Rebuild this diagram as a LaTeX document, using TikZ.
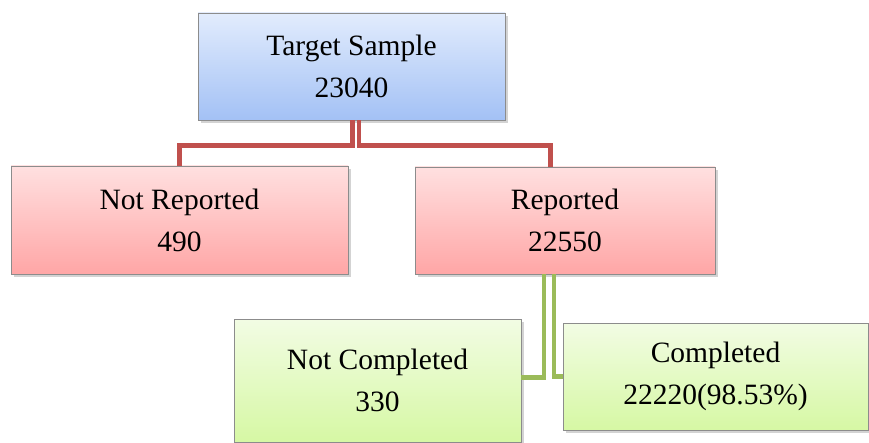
\documentclass[tikz,border=0pt]{standalone}
\usepackage{fontspec}
\setmainfont{Liberation Serif}
\usetikzlibrary{shadows}
\definecolor{boxline}{HTML}{8C8C8C}
\definecolor{redline}{HTML}{C0504D}
\definecolor{greenline}{HTML}{9BBB59}
\definecolor{bluetop}{HTML}{E2ECFD}
\definecolor{bluebot}{HTML}{A3C1F5}
\definecolor{pinktop}{HTML}{FFE0E0}
\definecolor{pinkbot}{HTML}{FFA6A6}
\definecolor{greentop}{HTML}{F2FCE4}
\definecolor{greenbot}{HTML}{D6F8A4}
\tikzset{
  boxbase/.style={draw=boxline, line width=0.9pt, inner sep=0pt, align=center,
    font=\fontsize{29.5}{42}\selectfont,
    drop shadow={shadow xshift=2.5pt, shadow yshift=-3pt, opacity=0.35}},
  bluebox/.style={boxbase, top color=bluetop, bottom color=bluebot},
  pinkbox/.style={boxbase, top color=pinktop, bottom color=pinkbot},
  greenbox/.style={boxbase, top color=greentop, bottom color=greenbot},
  redconn/.style={draw=redline, line width=4.6pt},
  greenconn/.style={draw=greenline, line width=4.6pt},
}
\begin{document}
\begin{tikzpicture}[x=1pt, y=-1pt]
\useasboundingbox (0,0) rectangle (869,443);
\node[bluebox, minimum width=307pt, minimum height=107pt] (t) at (351.5,66.5) {Target Sample\\23040};
\node[pinkbox, minimum width=337pt, minimum height=108pt] (nr) at (179.5,220) {Not Reported\\490};
\node[pinkbox, minimum width=300pt, minimum height=107pt] (r) at (565,220.5) {Reported\\22550};
\node[greenbox, minimum width=287pt, minimum height=123pt] (nc) at (377.5,380.5) {Not Completed\\330};
\node[greenbox, minimum width=305pt, minimum height=107pt] (c) at (715.5,376.5) {Completed\\22220(98.53\%)};
\draw[redconn] ([xshift=1pt]t.south) -- ++(0,25) -| (nr.north);
\draw[redconn] ([xshift=7.5pt]t.south) -- ++(0,25) -| ([xshift=-14.5pt]r.north);
\draw[greenconn] ([xshift=-21pt]r.south) |- ([yshift=3pt]nc.east);
\draw[greenconn] ([xshift=-11pt]r.south) |- (c.west);
\end{tikzpicture}
\end{document}
